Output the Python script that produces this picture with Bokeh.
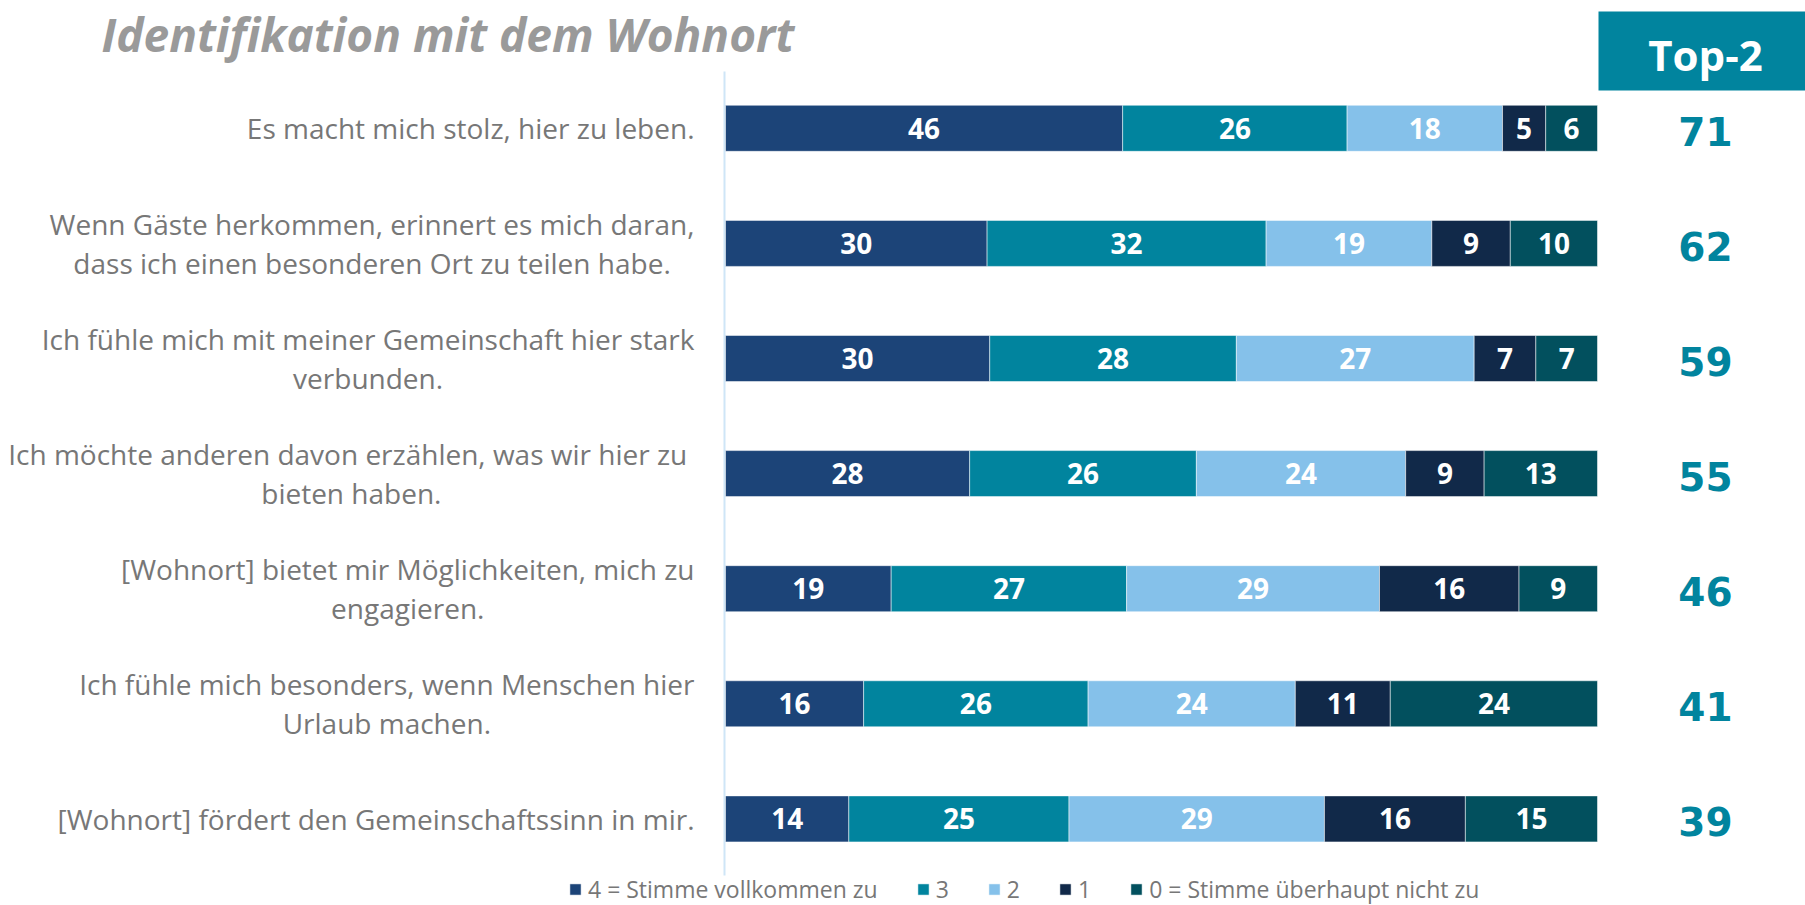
import os
import subprocess
import numpy as np
from bokeh.plotting import figure
from bokeh.models import Range1d, ColumnDataSource, Legend, LegendItem
from bokeh.embed import file_html
from bokeh.resources import INLINE
from bokeh.core.properties import value

# ---------------- data ----------------
title = "Identifikation mit dem Wohnort"
categories = [
    "Es macht mich stolz, hier zu leben.",
    "Wenn Gäste herkommen, erinnert es mich daran,\ndass ich einen besonderen Ort zu teilen habe.",
    "Ich fühle mich mit meiner Gemeinschaft hier stark\nverbunden.",
    "Ich möchte anderen davon erzählen, was wir hier zu \nbieten haben.",
    "[Wohnort] bietet mir Möglichkeiten, mich zu\nengagieren.",
    "Ich fühle mich besonders, wenn Menschen hier\nUrlaub machen.",
    "[Wohnort] fördert den Gemeinschaftssinn in mir.",
]
series_names = ["4 = Stimme vollkommen zu", "3", "2", "1", "0 = Stimme überhaupt nicht zu"]
v4 = [46, 30, 30, 28, 19, 16, 14]
v3 = [26, 32, 28, 26, 27, 26, 25]
v2 = [18, 19, 27, 24, 29, 24, 29]
v1 = [5, 9, 7, 9, 16, 11, 16]
v0 = [6, 10, 7, 13, 9, 24, 15]
top2 = [71, 62, 59, 55, 46, 41, 39]
top2_header = "Top-2"

colors = ["#1c4478", "#01849e", "#85c1ea", "#112949", "#02505e"]
TEAL = "#01849e"
GREY_TXT = "#777777"

# ---------------- layout (canvas pixels) ----------------
W, H = 1805, 905
BAR_X0 = 725.0          # canvas px of 0 %
PX_PER_PCT = 8.72       # 100 % = 872 px
ROW0_Y = 127.8          # canvas px of first row centre
ROW_STEP = 115.1        # px between rows


def px_x(px):
    return (px - BAR_X0) / PX_PER_PCT


def px_y(px):
    return (px - ROW0_Y) / ROW_STEP


def font_file(family, style="Regular"):
    try:
        out = subprocess.run(["fc-match", "-f", "%{file}", f"{family}:style={style}"],
                             capture_output=True, text=True, timeout=5).stdout.strip()
        if out and os.path.exists(out):
            return out
    except Exception:
        pass
    return None


LABEL_FONT = "Open Sans"
LABEL_SIZE = 28


def text_width(s, family, size):
    try:
        from PIL import ImageFont
        f = ImageFont.truetype(font_file(family), size)
        return f.getlength(s)
    except Exception:
        return 0.52 * size * len(s)


p = figure(width=W, height=H, output_backend="svg", toolbar_location=None,
           x_range=Range1d(px_x(0), px_x(W)),
           y_range=Range1d(px_y(H), px_y(0)),
           x_axis_type=None, y_axis_type=None, min_border=0)
p.grid.visible = False
p.outline_line_color = None
p.background_fill_color = "white"

# vertical axis line
p.segment(x0=[px_x(BAR_X0 - 1)], x1=[px_x(BAR_X0 - 1)], y0=[px_y(71)], y1=[px_y(875)],
          line_color="#cfe6f7", line_width=2)

# normalised stacked bars
vals = np.array([v4, v3, v2, v1, v0], dtype=float)
tot = vals.sum(axis=0)
norm = vals / tot * 100
keys = ["s4", "s3", "s2", "s1", "s0"]
rows = list(range(len(categories)))
src = ColumnDataSource(dict(row=rows, **{k: norm[i] for i, k in enumerate(keys)}))
rends = p.hbar_stack(keys, y="row", height=0.4, color=colors, line_color="white",
                     line_width=1, line_alpha=0.5, source=src)

# segment labels
cum = np.cumsum(norm, axis=0)
centres = cum - norm / 2
lx, ly, lt = [], [], []
for i in range(vals.shape[0]):
    for j in range(vals.shape[1]):
        lx.append(centres[i, j]); ly.append(j); lt.append(str(int(vals[i, j])))
p.text(x=lx, y=ly, text=lt, text_color="white", text_font=value("Open Sans"),
       text_font_style="bold", text_font_size="28px", text_align="center",
       text_baseline="middle")

# category labels (block right-aligned, lines centred)
label_right = 694.0
cx = []
for c in categories:
    wmax = max(text_width(line, LABEL_FONT, LABEL_SIZE) for line in c.split("\n"))
    cx.append(px_x(label_right - wmax / 2))
p.text(x=cx, y=rows, text=categories, text_color=GREY_TXT, text_font=value(LABEL_FONT),
       text_font_size=f"{LABEL_SIZE}px", text_align="center", text_baseline="middle",
       text_line_height=1.02)

# Top-2 header box and values
p.quad(left=[px_x(1598)], right=[px_x(W + 10)], top=[px_y(11)], bottom=[px_y(90)],
       fill_color=TEAL, line_color=None)
p.text(x=[px_x(1705)], y=[px_y(54)], text=[top2_header], text_color="white",
       text_font=value("Open Sans"), text_font_style="bold", text_font_size="42px",
       text_align="center", text_baseline="middle")
p.text(x=[px_x(1705)] * len(top2), y=rows, text=[str(t) for t in top2], text_color=TEAL,
       text_font=value("DejaVu Sans"), text_font_style="bold", text_font_size="39px",
       text_align="center", text_baseline="middle", y_offset=3)

# title
p.text(x=[px_x(101)], y=[px_y(33)], text=[title], text_color="#9a9a9a",
       text_font=value("Open Sans"), text_font_style="bold italic", text_font_size="46px",
       text_align="left", text_baseline="middle")

# legend
legend = Legend(items=[LegendItem(label=n, renderers=[r]) for n, r in zip(series_names, rends)],
                orientation="horizontal", location=(568, 0), padding=0, margin=0,
                spacing=38, glyph_width=14, glyph_height=14, label_standoff=6,
                label_width=0, label_height=0,
                label_text_font=LABEL_FONT, label_text_font_size="23px",
                label_text_color=GREY_TXT, border_line_color=None,
                background_fill_alpha=0)
p.add_layout(legend, "center")

open("out.html", "w").write(file_html(p, INLINE))
